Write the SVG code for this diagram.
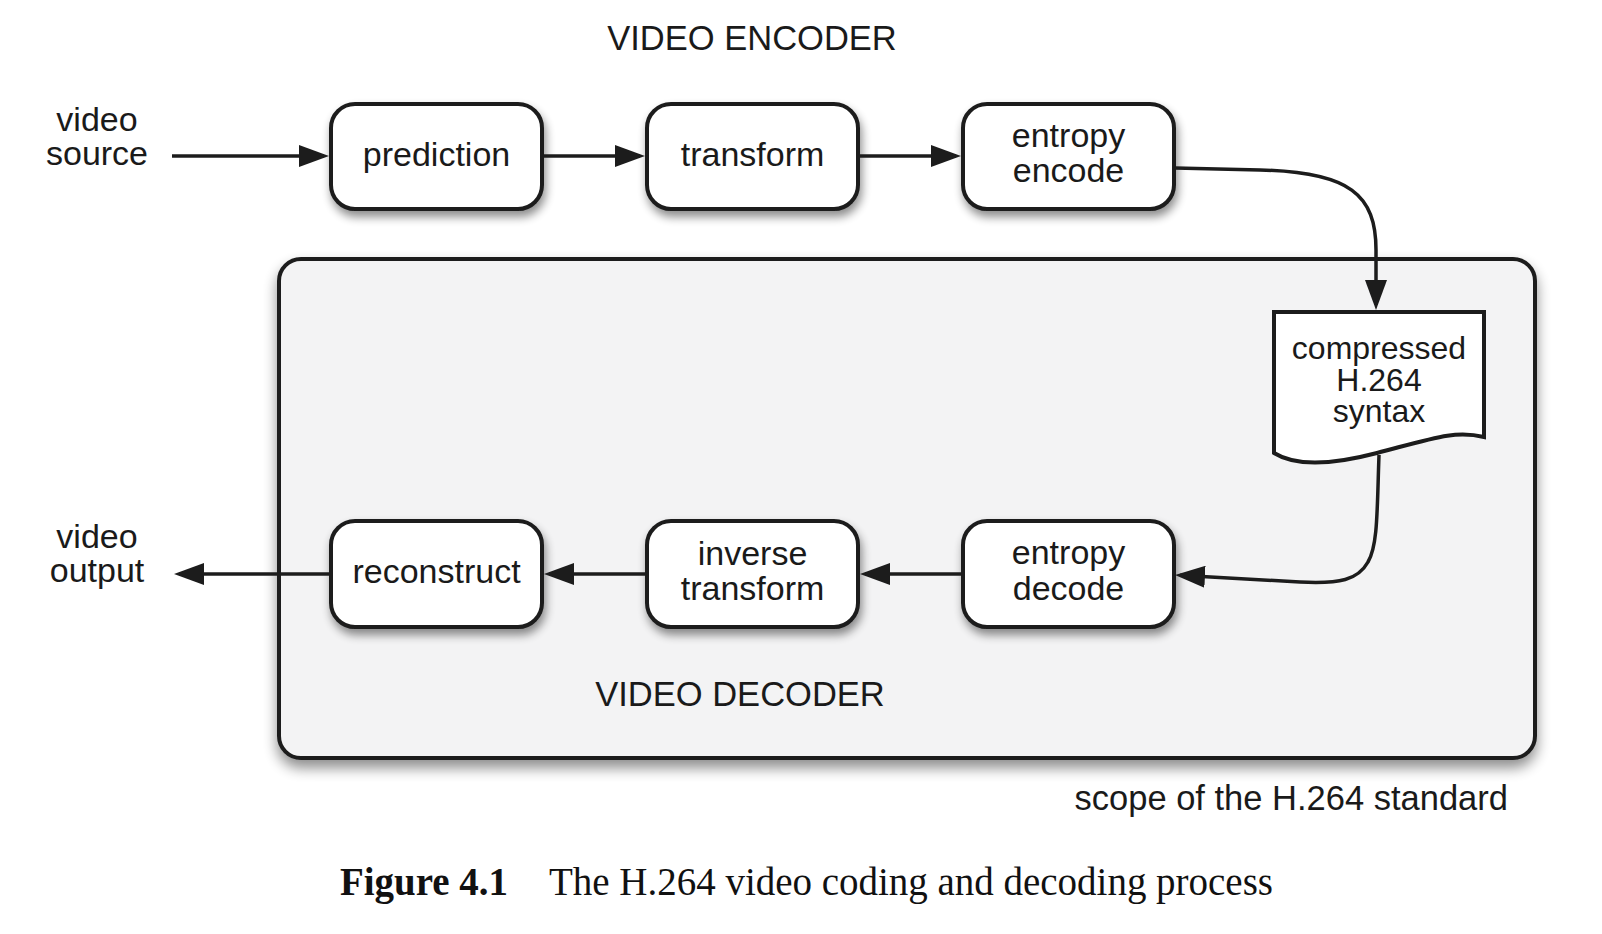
<svg xmlns="http://www.w3.org/2000/svg" width="1602" height="934" viewBox="0 0 1602 934">
  <style>
    .lbl { font-family: "Liberation Sans", Arial, Helvetica, sans-serif; font-size: 34px; fill: #1a1a1a; text-anchor: middle; }
    .head { font-family: "Liberation Sans", Arial, Helvetica, sans-serif; font-size: 34.5px; fill: #1a1a1a; }
    .doc-lbl { font-family: "Liberation Sans", Arial, Helvetica, sans-serif; font-size: 32px; fill: #1a1a1a; text-anchor: middle; }
    .cap { font-family: "Liberation Serif", "Times New Roman", serif; font-size: 40px; fill: #111; }
    .node { fill: #ffffff; stroke: #1c1c1c; stroke-width: 4; }
    .edge { fill: none; stroke: #1c1c1c; stroke-width: 3.5; marker-end: url(#arrow); }
  </style>
  <defs>
    <marker id="arrow" markerUnits="userSpaceOnUse" markerWidth="30" markerHeight="22" viewBox="0 0 30 22" refX="25" refY="11" orient="auto">
      <path d="M0,0 L30,11 L0,22 Z" fill="#1c1c1c"/>
    </marker>
    <filter id="shadow" x="-10%" y="-15%" width="125%" height="145%">
      <feGaussianBlur in="SourceAlpha" stdDeviation="5"/>
      <feOffset dx="2" dy="6"/>
      <feComponentTransfer><feFuncA type="linear" slope="0.45"/></feComponentTransfer>
      <feMerge><feMergeNode/><feMergeNode in="SourceGraphic"/></feMerge>
    </filter>
    <filter id="shadow-big" x="-5%" y="-8%" width="110%" height="120%">
      <feGaussianBlur in="SourceAlpha" stdDeviation="7"/>
      <feOffset dx="0" dy="8"/>
      <feComponentTransfer><feFuncA type="linear" slope="0.45"/></feComponentTransfer>
      <feMerge><feMergeNode/><feMergeNode in="SourceGraphic"/></feMerge>
    </filter>
  </defs>

  <rect width="1602" height="934" fill="#ffffff"/>

  <!-- decoder scope panel -->
  <g id="decoder-panel">
    <rect x="279" y="259" width="1256" height="499" rx="22" fill="#f3f3f4" stroke="#1c1c1c" stroke-width="4" filter="url(#shadow-big)"/>
    <text class="head" x="740" y="706" text-anchor="middle">VIDEO DECODER</text>
  </g>

  <g id="encoder-title">
    <text class="head" x="752" y="50" text-anchor="middle">VIDEO ENCODER</text>
  </g>

  <g id="video-source">
    <text class="lbl" x="97" y="131">video</text>
    <text class="lbl" x="97" y="165">source</text>
  </g>

  <g id="video-output">
    <text class="lbl" x="97" y="548">video</text>
    <text class="lbl" x="97" y="582">output</text>
  </g>

  <!-- encoder row -->
  <g id="prediction">
    <rect class="node" x="331" y="104" width="211" height="105" rx="24" filter="url(#shadow)"/>
    <text class="lbl" x="436.5" y="166">prediction</text>
  </g>
  <g id="transform">
    <rect class="node" x="647" y="104" width="211" height="105" rx="24" filter="url(#shadow)"/>
    <text class="lbl" x="752.5" y="166">transform</text>
  </g>
  <g id="entropy-encode">
    <rect class="node" x="963" y="104" width="211" height="105" rx="24" filter="url(#shadow)"/>
    <text class="lbl" x="1068.5" y="147">entropy</text>
    <text class="lbl" x="1068.5" y="181.5">encode</text>
  </g>

  <!-- bitstream document -->
  <g id="compressed-syntax">
    <path d="M1274,312 H1484 V437 C1455,430 1434,438 1377,453 C1320,468 1290,463 1274,453 Z" fill="#ffffff" stroke="#1c1c1c" stroke-width="4" stroke-linejoin="miter"/>
    <text class="doc-lbl" x="1379" y="359">compressed</text>
    <text class="doc-lbl" x="1379" y="391">H.264</text>
    <text class="doc-lbl" x="1379" y="422">syntax</text>
  </g>

  <!-- decoder row -->
  <g id="reconstruct">
    <rect class="node" x="331" y="521" width="211" height="106" rx="24" filter="url(#shadow)"/>
    <text class="lbl" x="436.5" y="583">reconstruct</text>
  </g>
  <g id="inverse-transform">
    <rect class="node" x="647" y="521" width="211" height="106" rx="24" filter="url(#shadow)"/>
    <text class="lbl" x="752.5" y="565">inverse</text>
    <text class="lbl" x="752.5" y="600">transform</text>
  </g>
  <g id="entropy-decode">
    <rect class="node" x="963" y="521" width="211" height="106" rx="24" filter="url(#shadow)"/>
    <text class="lbl" x="1068.5" y="564">entropy</text>
    <text class="lbl" x="1068.5" y="599.5">decode</text>
  </g>

  <!-- connectors -->
  <g id="connectors">
    <path class="edge" d="M172,156 H324"/>
    <path class="edge" d="M542,156 H640"/>
    <path class="edge" d="M858,156 H956"/>
    <path class="edge" d="M1175,168 L1260,170 C1350,172 1376,195 1376,250 L1376,305"/>
    <path class="edge" d="M1379,455 C1377,510 1378,545 1368,562 C1358,580 1340,584 1300,582 L1180,575.3"/>
    <path class="edge" d="M963,574 H865"/>
    <path class="edge" d="M647,574 H549"/>
    <path class="edge" d="M331,574 H179"/>
  </g>

  <g id="scope-note">
    <text class="head" x="1508" y="810" text-anchor="end">scope of the H.264 standard</text>
  </g>

  <g id="caption">
    <text class="cap" x="340" y="895"><tspan font-weight="bold" textLength="168" lengthAdjust="spacingAndGlyphs">Figure 4.1</tspan></text>
    <text class="cap" x="549" y="895" textLength="724" lengthAdjust="spacingAndGlyphs">The H.264 video coding and decoding process</text>
  </g>
</svg>
